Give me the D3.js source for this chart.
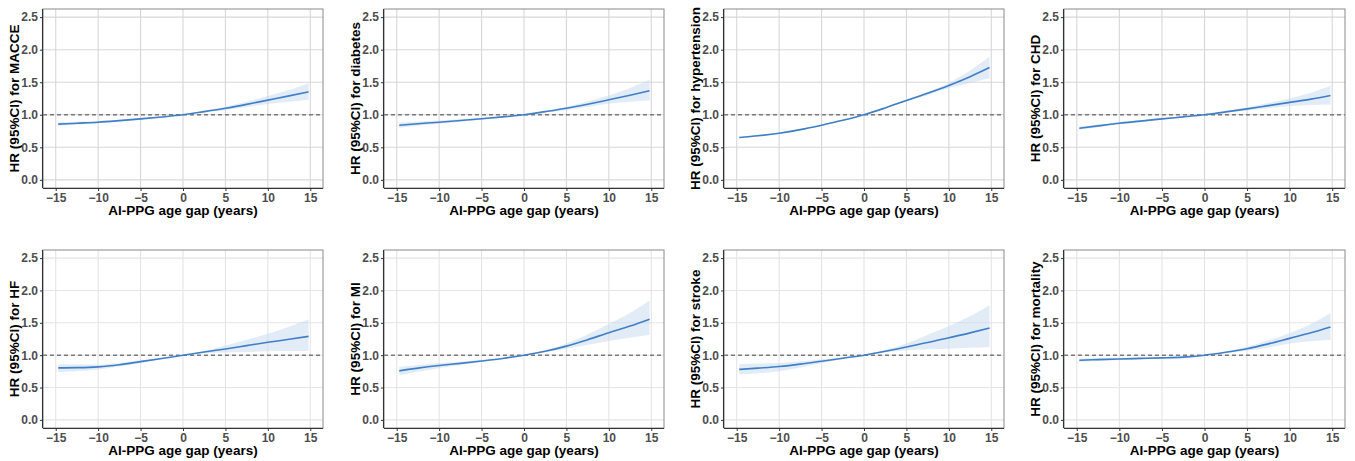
<!DOCTYPE html>
<html>
<head>
<meta charset="utf-8">
<script src="https://cdn.jsdelivr.net/npm/d3@7"></script>
<style>
  body { margin: 0; background: #fff; }
  svg { display: block; font-family: "Liberation Sans", Arial, sans-serif; }
</style>
</head>
<body>
<svg id="chart" width="1355" height="461"></svg>
<script>
// Data
const ageGap = [-14.7, -12.5, -10, -7.5, -5, -2.5, 0, 2.5, 5, 7.5, 10, 12.5, 14.8];
const outcomes = ["MACCE", "diabetes", "hypertension", "CHD", "HF", "MI", "stroke", "mortality"];
const xTicks = [-15, -10, -5, 0, 5, 10, 15];
const yTicks = [0, 0.5, 1, 1.5, 2, 2.5];

const hrMACCE = [0.856, 0.87, 0.886, 0.91, 0.937, 0.966, 1.0, 1.048, 1.10, 1.16, 1.225, 1.29, 1.352];
const loMACCE = [0.83, 0.848, 0.868, 0.895, 0.925, 0.958, 1.0, 1.035, 1.075, 1.12, 1.165, 1.20, 1.23];
const hiMACCE = [0.885, 0.893, 0.905, 0.925, 0.95, 0.975, 1.0, 1.062, 1.125, 1.20, 1.29, 1.38, 1.486];

const hrDiabetes = [0.84, 0.862, 0.886, 0.912, 0.94, 0.968, 1.0, 1.048, 1.10, 1.162, 1.23, 1.30, 1.368];
const loDiabetes = [0.80, 0.83, 0.862, 0.893, 0.925, 0.96, 1.0, 1.035, 1.075, 1.12, 1.17, 1.20, 1.22];
const hiDiabetes = [0.88, 0.895, 0.912, 0.932, 0.955, 0.977, 1.0, 1.062, 1.125, 1.205, 1.295, 1.41, 1.537];

const hrHypertension = [0.65, 0.677, 0.717, 0.772, 0.84, 0.915, 1.0, 1.105, 1.219, 1.33, 1.45, 1.585, 1.725];
const loHypertension = [0.64, 0.668, 0.708, 0.764, 0.832, 0.91, 1.0, 1.098, 1.205, 1.305, 1.41, 1.49, 1.56];
const hiHypertension = [0.66, 0.686, 0.726, 0.78, 0.848, 0.92, 1.0, 1.112, 1.233, 1.355, 1.49, 1.68, 1.895];

const hrCHD = [0.794, 0.83, 0.87, 0.903, 0.937, 0.968, 1.0, 1.045, 1.09, 1.14, 1.19, 1.24, 1.296];
const loCHD = [0.77, 0.81, 0.853, 0.889, 0.926, 0.962, 1.0, 1.033, 1.065, 1.1, 1.13, 1.15, 1.157];
const hiCHD = [0.82, 0.85, 0.887, 0.917, 0.948, 0.974, 1.0, 1.057, 1.115, 1.18, 1.25, 1.34, 1.445];

const hrHF = [0.804, 0.807, 0.82, 0.853, 0.90, 0.948, 1.0, 1.05, 1.096, 1.148, 1.199, 1.245, 1.29];
const loHF = [0.74, 0.75, 0.78, 0.825, 0.88, 0.94, 1.0, 1.03, 1.04, 1.05, 1.06, 1.063, 1.065];
const hiHF = [0.86, 0.86, 0.855, 0.88, 0.92, 0.957, 1.0, 1.07, 1.15, 1.24, 1.33, 1.44, 1.55];

const hrMI = [0.758, 0.80, 0.84, 0.874, 0.91, 0.95, 1.0, 1.06, 1.14, 1.24, 1.347, 1.45, 1.557];
const loMI = [0.69, 0.745, 0.80, 0.848, 0.895, 0.943, 1.0, 1.045, 1.10, 1.16, 1.22, 1.27, 1.317];
const hiMI = [0.82, 0.85, 0.88, 0.90, 0.925, 0.958, 1.0, 1.075, 1.18, 1.32, 1.48, 1.65, 1.844];

const hrStroke = [0.78, 0.80, 0.825, 0.862, 0.907, 0.953, 1.0, 1.06, 1.127, 1.195, 1.27, 1.345, 1.42];
const loStroke = [0.70, 0.72, 0.75, 0.81, 0.875, 0.94, 1.0, 1.04, 1.075, 1.09, 1.10, 1.115, 1.127];
const hiStroke = [0.86, 0.87, 0.88, 0.905, 0.935, 0.965, 1.0, 1.08, 1.18, 1.31, 1.45, 1.60, 1.77];

const hrMortality = [0.922, 0.932, 0.942, 0.95, 0.958, 0.97, 1.0, 1.045, 1.10, 1.175, 1.26, 1.345, 1.434];
const loMortality = [0.895, 0.912, 0.925, 0.935, 0.945, 0.962, 1.0, 1.033, 1.07, 1.12, 1.18, 1.215, 1.24];
const hiMortality = [0.95, 0.955, 0.96, 0.965, 0.97, 0.978, 1.0, 1.057, 1.13, 1.23, 1.34, 1.48, 1.65];

const hrSeries = [hrMACCE, hrDiabetes, hrHypertension, hrCHD, hrHF, hrMI, hrStroke, hrMortality];
const loSeries = [loMACCE, loDiabetes, loHypertension, loCHD, loHF, loMI, loStroke, loMortality];
const hiSeries = [hiMACCE, hiDiabetes, hiHypertension, hiCHD, hiHF, hiMI, hiStroke, hiMortality];

// Layout of the 4x2 panel grid
const panelLeft = [43, 384, 724, 1064];
const panelRight = [323, 664, 1004, 1345];
const panelTop = [9, 250];
const panelBottom = [188, 428];

const svg = d3.select("#chart");

outcomes.forEach((name, i) => {
  const col = i % 4, row = Math.floor(i / 4);
  const x0 = panelLeft[col], x1 = panelRight[col];
  const y0 = panelTop[row], y1 = panelBottom[row];
  const w = x1 - x0, h = y1 - y0;
  const gridColor = row === 0 ? "#d7d7d7" : "#e4e4e4";

  const g = svg.append("g").attr("transform", `translate(${x0}, ${y0})`);

  const x = d3.scaleLinear().domain([-16.5, 16.5]).range([0, w]);
  const y = d3.scaleLinear().domain([-0.125, 2.625]).range([h, 0]);

  // Grid
  g.append("g").selectAll("line").data(xTicks).join("line")
    .attr("x1", d => x(d)).attr("x2", d => x(d))
    .attr("y1", 0).attr("y2", h)
    .attr("stroke", gridColor).attr("stroke-width", 1.1);
  g.append("g").selectAll("line").data(yTicks).join("line")
    .attr("x1", 0).attr("x2", w)
    .attr("y1", d => y(d)).attr("y2", d => y(d))
    .attr("stroke", gridColor).attr("stroke-width", 1.1);

  const pts = ageGap.map((a, k) => ({ a, hr: hrSeries[i][k], lo: loSeries[i][k], hi: hiSeries[i][k] }));

  // CI band
  g.append("path").datum(pts)
    .attr("d", d3.area().x(d => x(d.a)).y0(d => y(d.lo)).y1(d => y(d.hi)).curve(d3.curveMonotoneX))
    .attr("fill", "#c6d9ee").attr("fill-opacity", 0.5);

  // Reference line at HR = 1
  g.append("line")
    .attr("x1", 0).attr("x2", w)
    .attr("y1", y(1)).attr("y2", y(1))
    .attr("stroke", "#7a7a7a").attr("stroke-width", 1.4)
    .attr("stroke-dasharray", "4,3");

  // HR curve
  g.append("path").datum(pts)
    .attr("d", d3.line().x(d => x(d.a)).y(d => y(d.hr)).curve(d3.curveMonotoneX))
    .attr("fill", "none").attr("stroke", "#3f7fc8").attr("stroke-width", 1.6);

  // Panel border
  g.append("rect").attr("width", w).attr("height", h)
    .attr("fill", "none").attr("stroke", "#8a8a8a").attr("stroke-width", 1);

  // Axes
  const xAxis = g.append("g").attr("transform", `translate(0, ${h})`)
    .call(d3.axisBottom(x).tickValues(xTicks).tickSize(3).tickPadding(2).tickSizeOuter(0));
  const yAxis = g.append("g")
    .call(d3.axisLeft(y).tickValues(yTicks).tickFormat(d3.format(".1f")).tickSize(3).tickPadding(2).tickSizeOuter(0));
  [xAxis, yAxis].forEach(a => {
    a.select(".domain").attr("stroke", "#333").attr("stroke-width", 1.1);
    a.selectAll(".tick line").attr("stroke", "#333");
    a.selectAll("text").attr("fill", "#4d4d4d")
      .style("font-size", "12px").style("font-weight", "bold")
      .style("font-family", "'Liberation Sans', Arial, sans-serif");
  });
  xAxis.select(".domain").attr("d", `M0,0.5H${w}`);
  yAxis.select(".domain").attr("d", `M-0.5,0V${h}`);

  // Titles
  g.append("text")
    .attr("x", w / 2).attr("y", h + 27)
    .attr("text-anchor", "middle")
    .style("font-size", "13.5px").style("font-weight", "bold")
    .text("AI-PPG age gap (years)");
  g.append("text")
    .attr("transform", `translate(-24, ${h / 2}) rotate(-90)`)
    .attr("text-anchor", "middle")
    .style("font-size", "13.5px").style("font-weight", "bold")
    .text(`HR (95%CI) for ${name}`);
});
</script>
</body>
</html>
